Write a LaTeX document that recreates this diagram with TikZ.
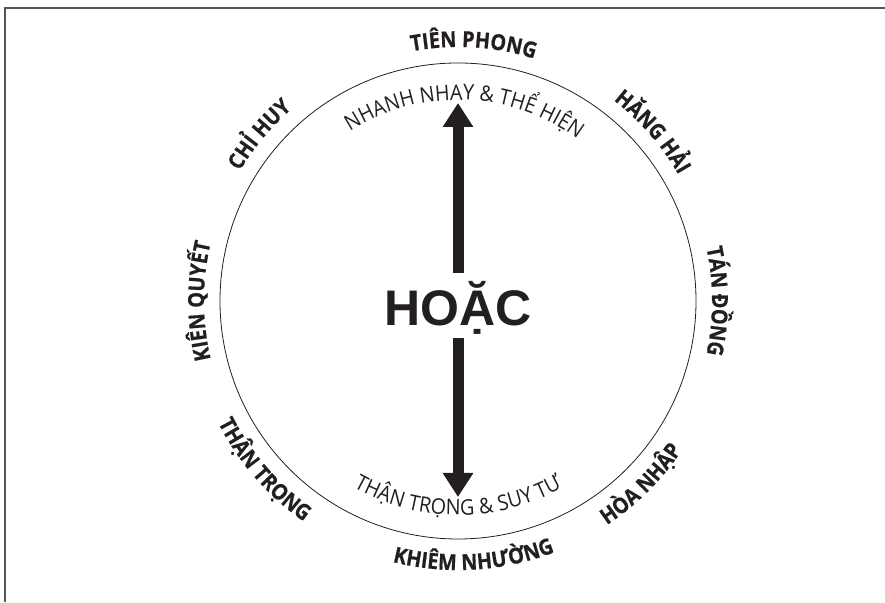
\documentclass[tikz,border=0pt]{standalone}
\usepackage{fontspec}
\setmainfont{Liberation Sans}
\newfontfamily\labfont[FakeStretch=0.92]{Open Sans}
\newfontfamily\labboldfont[FakeStretch=0.9,FakeBold=0.6]{Open Sans Bold}
\usetikzlibrary{decorations.text,arrows.meta}
\definecolor{ink}{HTML}{231F20}
\definecolor{framegray}{HTML}{555555}
\newcommand\olab{\labboldfont\fontsize{22}{22}\selectfont}
\newcommand\ilab{\labfont\fontsize{21.5}{21.5}\selectfont}
\begin{document}
\begin{tikzpicture}[x=1pt,y=1pt,
  along/.style={decorate,decoration={text along path,text align=center,text color=ink,#1}},
  shaft/.style={draw=ink,line width=11pt,-{Triangle[width=29pt,length=24pt]}}]
\useasboundingbox (0,0) rectangle (885,602);
\draw[framegray,line width=1.5pt] (5,0) -- (5,594) -- (885,594);
\coordinate (c) at (458,301);
\draw[ink,line width=0.8pt] (c) circle[radius=238];
% centre word
\node[text=ink,font=\bfseries\fontsize{50}{50}\selectfont,inner sep=0pt] (hoac) at (458,294) {HOẶC};
\coordinate (topbase) at (458,329);
\coordinate (toptip) at (458,499);
\coordinate (botbase) at (458,264);
\coordinate (bottip) at (458,105);
\draw[shaft] (topbase) -- (toptip);
\draw[shaft] (botbase) -- (bottip);
% outer labels, clockwise (tops outward)
\path[along={text={|\olab|TIÊN PHONG}}] (c) ++(146.5:254) arc[start angle=146.5,end angle=26.5,radius=254];
\path[along={text={|\olab|HĂNG HẢI}}] (c) ++(101:254) arc[start angle=101,end angle=-19,radius=254];
\path[along={text={|\olab|TÁN ĐỒNG}}] (c) ++(60:254) arc[start angle=60,end angle=-60,radius=254];
\path[along={text={|\olab|KIÊN QUYẾT}}] (c) ++(240:254) arc[start angle=240,end angle=120,radius=254];
\path[along={text={|\olab|CHỈ HUY}}] (c) ++(200:254) arc[start angle=200,end angle=80,radius=254];
% outer labels, counter-clockwise (tops inward)
\path[along={text={|\olab|KHIÊM NHƯỜNG}}] (c) ++(-146.5:269) arc[start angle=-146.5,end angle=-26.5,radius=269];
\path[along={text={|\olab|HÒA NHẬP}}] (c) ++(-105:269) arc[start angle=-105,end angle=15,radius=269];
\path[along={text={|\olab|THẬN TRỌNG}}] (c) ++(-199:269) arc[start angle=-199,end angle=-79,radius=269];
% inner labels
\path[along={text={|\ilab|NHANH NHAY {\&} THỂ HIỆN}}] (c) ++(168:201) arc[start angle=168,end angle=8,radius=201];
\path[along={text={|\ilab|THẬN TRỌNG {\&} SUY TƯ}}] (c) ++(-170:214) arc[start angle=-170,end angle=-10,radius=214];
\end{tikzpicture}
\end{document}
